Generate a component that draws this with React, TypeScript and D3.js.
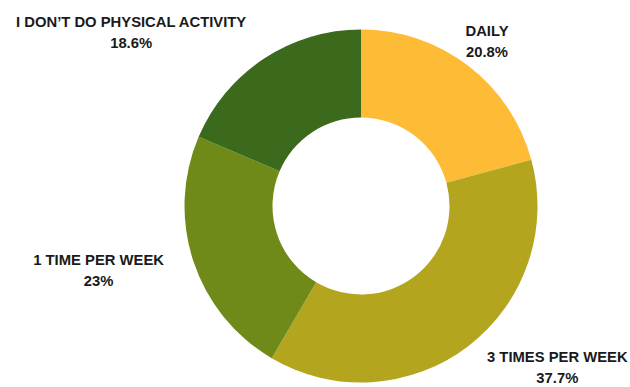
import React, { useMemo } from "react";
import * as d3 from "d3";

const categories = ["DAILY", "3 TIMES PER WEEK", "1 TIME PER WEEK", "I DON’T DO PHYSICAL ACTIVITY"];
const values = [20.8, 37.7, 23, 18.6];
const valueLabels = ["20.8%", "37.7%", "23%", "18.6%"];
const colors = ["#FDBB36", "#B4A51F", "#6F8A19", "#3B6A1C"];
const anchors = ["middle", "start", "end", "end"];

const W = 630;
const H = 387;
const FONT = "bold 14.8px 'Liberation Sans', Arial, sans-serif";

function measure(text: string): number {
  if (typeof document === "undefined") return text.length * 9;
  const c = document.createElement("canvas");
  const ctx = c.getContext("2d");
  if (!ctx) return text.length * 9;
  ctx.font = FONT;
  return ctx.measureText(text).width;
}

export default function App() {
  const cx = 361;
  const cy = 206;
  const outerR = 176.5;
  const innerR = 88.5;
  const labelR = 207.5;
  const lineGap = 10.5;

  const data = categories.map((c, i) => ({ c, v: values[i], l: valueLabels[i], i }));
  const pie = d3.pie<any>().value((d) => d.v).sort(null);
  const arcs = pie(data);
  const arc = d3.arc<any>().innerRadius(innerR).outerRadius(outerR);
  const labelArc = d3.arc<any>().innerRadius(labelR).outerRadius(labelR);

  const widths = useMemo(
    () => data.map((d) => Math.max(measure(d.c), measure(d.l))),
    []
  );

  return (
    <svg
      width={W}
      height={H}
      style={{ position: "absolute", left: 0, top: 0, background: "#fff" }}
    >
      <g transform={`translate(${cx},${cy})`}>
        {arcs.map((a, i) => (
          <path key={i} d={arc(a) || ""} fill={colors[i]} />
        ))}
        {arcs.map((a, i) => {
          const [x, y0] = labelArc.centroid(a);
          const y = Math.min(y0, H - cy - lineGap - 9);
          const w = widths[i];
          const bx = anchors[i] === "start" ? x + w / 2 : anchors[i] === "end" ? x - w / 2 : x;
          return (
            <g key={"l" + i}>
              <text
                x={bx}
                y={y - lineGap}
                textAnchor="middle"
                dominantBaseline="central"
                style={{ font: FONT }}
                fill="#1a1a1a"
              >
                {a.data.c}
              </text>
              <text
                x={bx}
                y={y + lineGap}
                textAnchor="middle"
                dominantBaseline="central"
                style={{ font: FONT }}
                fill="#1a1a1a"
              >
                {a.data.l}
              </text>
            </g>
          );
        })}
      </g>
    </svg>
  );
}
